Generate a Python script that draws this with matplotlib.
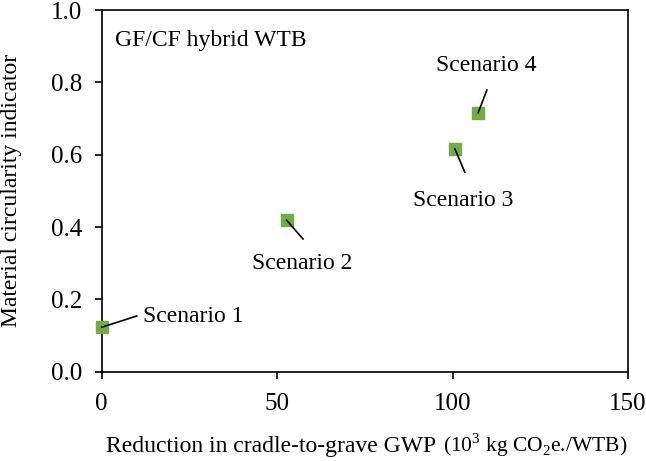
import matplotlib
matplotlib.use('Agg')
import matplotlib.pyplot as plt

# data
scenarios = ['Scenario 1', 'Scenario 2', 'Scenario 3', 'Scenario 4']
gwp_reduction = [0.0, 52.7, 100.7, 107.3]
mci = [0.123, 0.419, 0.616, 0.716]
# where each label sits and where its leader line stops (data units)
label_pos = [(11.8, 0.154), (57.2, 0.298), (103.1, 0.473), (109.7, 0.848)]
line_end = [(10.0, 0.154), (57.4, 0.367), (103.5, 0.552), (109.8, 0.779)]

plt.rcParams['font.family'] = ['Liberation Serif', 'DejaVu Serif']
plt.rcParams['mathtext.fontset'] = 'custom'
plt.rcParams['mathtext.rm'] = 'Liberation Serif'
plt.rcParams['font.size'] = 17


def run_main():
    fig = plt.figure(figsize=(6.46, 4.61), dpi=100)
    ax = fig.add_axes([0.1574, 0.1937, 0.8146, 0.7843])

    ax.scatter(gwp_reduction, mci, marker='s', s=75, color='#70ad47',
               zorder=3, clip_on=False)

    for i, name in enumerate(scenarios):
        x, y = gwp_reduction[i], mci[i]
        lx, ly = line_end[i]
        ax.plot([x, lx], [y, ly], color='k', lw=1.2, zorder=4, clip_on=False)
        tx, ty = label_pos[i]
        ha = 'left' if i == 0 else 'center'
        ax.text(tx, ty, name, ha=ha, va='center')

    ax.text(0.025, 0.917, 'GF/CF hybrid WTB', transform=ax.transAxes,
            ha='left', va='center')

    ax.set_xlim(0, 150)
    ax.set_ylim(0, 1.0)
    ax.set_xticks([0, 50, 100, 150])
    ax.set_yticks([0.0, 0.2, 0.4, 0.6, 0.8, 1.0])
    ax.set_yticklabels(['%.1f' % v for v in ax.get_yticks()])
    ax.tick_params(direction='out', length=5, width=1.2, labelsize=18)
    ax.tick_params(axis='x', pad=10)
    ax.tick_params(axis='y', pad=9)
    for s in ax.spines.values():
        s.set_linewidth(1.2)

    ax.set_ylabel('Material circularity indicator')
    ax.yaxis.set_label_coords(-0.151, 0.5)

    # x label: main part, then the units part a little smaller
    fig.text(436 / 646, 0.019, 'Reduction in cradle-to-grave GWP',
             ha='right', va='baseline', fontsize=17)
    fig.text(443 / 646, 0.019, r'(10$^3$ kg CO$_2$e./WTB)',
             ha='left', va='baseline', fontsize=15.5)

    fig.savefig('out.png', dpi=100)


if __name__ == "__main__":
    run_main()
